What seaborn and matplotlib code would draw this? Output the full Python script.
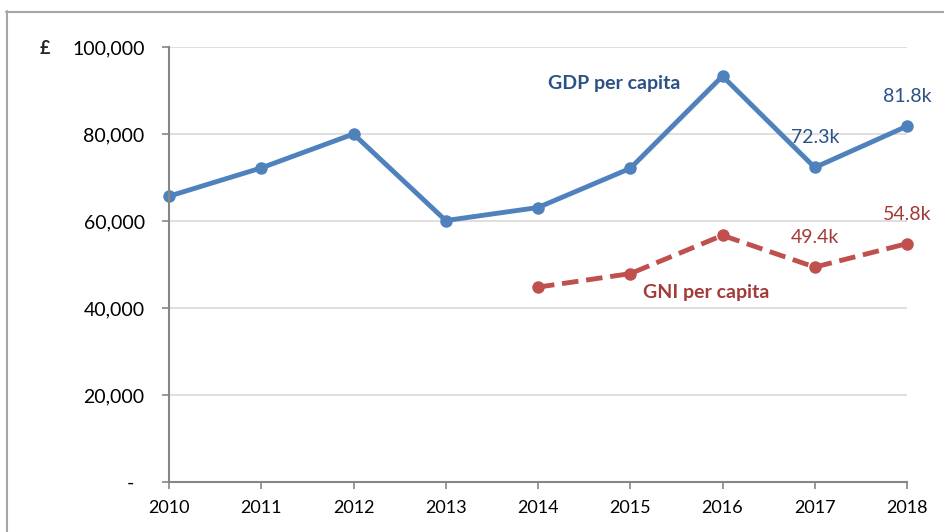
import pandas as pd
import matplotlib.pyplot as plt
import seaborn as sns
from matplotlib.lines import Line2D
from matplotlib.ticker import FuncFormatter

# data
years = [2010, 2011, 2012, 2013, 2014, 2015, 2016, 2017, 2018]
gdp = [65700, 72200, 80000, 60100, 63100, 72100, 93300, 72300, 81800]
gni_years = [2014, 2015, 2016, 2017, 2018]
gni = [44800, 47900, 56700, 49400, 54800]
y_ticks = [0, 20000, 40000, 60000, 80000, 100000]

GDP_COL = '#4F81BD'
GDP_TXT = '#2B5185'
GNI_COL = '#C0504D'
GNI_TXT = '#A33B38'

sns.set_theme(style="white")
plt.rcParams['font.family'] = ['Lato', 'DejaVu Sans']

df_gdp = pd.DataFrame({'year': years, 'value': gdp})
df_gni = pd.DataFrame({'year': gni_years, 'value': gni})

fig = plt.figure(figsize=(9.44, 5.32), dpi=100)
ax = fig.add_axes([169 / 944, 1 - 482 / 532, (907 - 169) / 944, (482 - 47) / 532])

sns.lineplot(data=df_gdp, x='year', y='value', ax=ax, color=GDP_COL, lw=3.5,
             marker='o', markersize=9, markeredgewidth=0, clip_on=False)
sns.lineplot(data=df_gni, x='year', y='value', ax=ax, color=GNI_COL, lw=3.5,
             marker='o', markersize=9, markeredgewidth=0, dashes=False, clip_on=False)
ax.lines[-1].set_dashes([3.4, 1.6])

ax.set_xlim(years[0], years[-1])
ax.set_ylim(0, 100000)
ax.set_xticks(years)
ax.set_yticks(y_ticks)
ax.yaxis.set_major_formatter(FuncFormatter(lambda v, p: '-  ' if v == 0 else f'{int(v):,}'))
ax.set_xlabel('')
ax.set_ylabel('')
ax.grid(axis='y', color='#D9D9D9', lw=1.2)
ax.set_axisbelow(True)
for s in ['top', 'right']:
    ax.spines[s].set_visible(False)
for s in ['left', 'bottom']:
    ax.spines[s].set_color('#868686')
    ax.spines[s].set_linewidth(1.5)
ax.tick_params(axis='both', which='major', length=5, width=1.2, color='#868686',
               labelcolor='black', direction='out')
ax.tick_params(axis='x', pad=8, bottom=True, labelsize=13)
ax.tick_params(axis='y', pad=12.5, left=True, labelsize=14)

# series labels
ax.text(2014.11, 91700, 'GDP per capita', color=GDP_TXT, fontsize=14,
        fontweight='bold', ha='left', va='center')
ax.text(2015.14, 43450, 'GNI per capita', color=GNI_TXT, fontsize=14,
        fontweight='bold', ha='left', va='center')

# value labels on last two points
for yr, v in zip(years[-2:], gdp[-2:]):
    ax.annotate(f'{v / 1000:.1f}k', (yr, v), xytext=(0, 15.5), textcoords='offset points',
                ha='center', va='bottom', color=GDP_TXT, fontsize=14)
for yr, v in zip(gni_years[-2:], gni[-2:]):
    ax.annotate(f'{v / 1000:.1f}k', (yr, v), xytext=(0, 15), textcoords='offset points',
                ha='center', va='bottom', color=GNI_TXT, fontsize=14)

# currency marker
fig.text(45 / 944, 1 - 48 / 532, '£', fontsize=13, fontweight='bold', ha='center', va='center')

# outer chart frame
fig.add_artist(Line2D([6.5 / 944, 6.5 / 944], [0, 1 - 11 / 532], color='#A6A6A6', lw=1.5))
fig.add_artist(Line2D([6 / 944, 1], [1 - 11.5 / 532, 1 - 11.5 / 532], color='#A6A6A6', lw=1.5))

fig.savefig('out.png', dpi=100)
